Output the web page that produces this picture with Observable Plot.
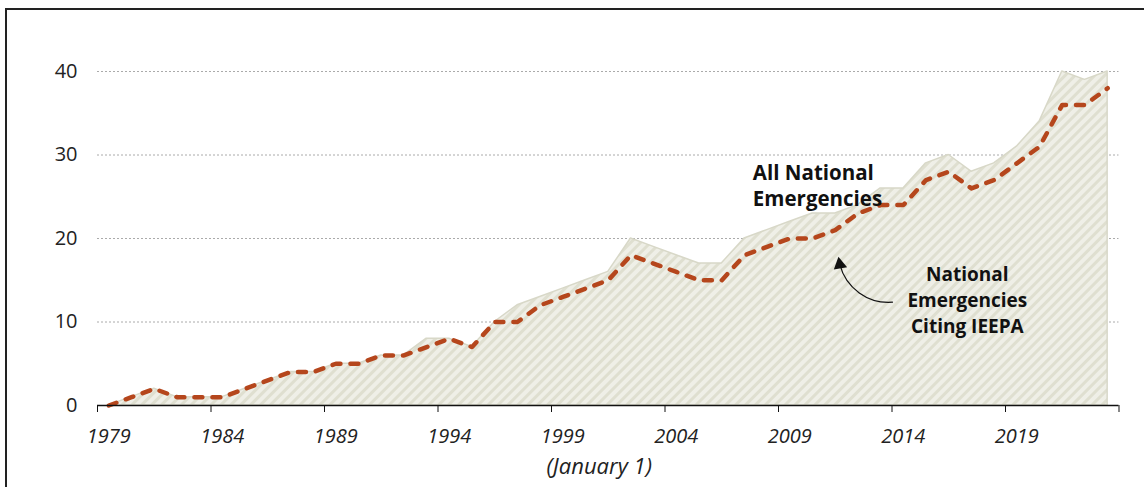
<!DOCTYPE html>
<html><head><meta charset="utf-8">
<script src="https://cdn.jsdelivr.net/npm/d3@7"></script>
<script src="https://cdn.jsdelivr.net/npm/@observablehq/plot@0.6"></script>
<style>
html,body{margin:0;padding:0;background:#fff;overflow:hidden;width:1144px;height:487px;}
#frame{position:absolute;left:5px;top:8px;width:1200px;height:600px;border-left:2px solid #222;border-top:2px solid #222;}
#chart{position:absolute;left:0;top:0;}
</style></head><body>
<div id="frame"></div>
<div id="chart"></div>
<script>
const years = [1979,1980,1981,1982,1983,1984,1985,1986,1987,1988,1989,1990,1991,1992,1993,1994,1995,1996,1997,1998,1999,2000,2001,2002,2003,2004,2005,2006,2007,2008,2009,2010,2011,2012,2013,2014,2015,2016,2017,2018,2019,2020,2021,2022,2023];
const allEmergencies = [0,1,2,1,1,1,2,3,4,4,5,5,6,6,8,8,7,10,12,13,14,15,16,20,19,18,17,17,20,21,22,23,23,24,26,26,29,30,28,29,31,34,40,39,40];
const ieepaEmergencies = [0,1,2,1,1,1,2,3,4,4,5,5,6,6,7,8,7,10,10,12,13,14,15,18,17,16,15,15,18,19,20,20,21,23,24,24,27,28,26,27,29,31,36,36,38];
const yTicks = [0,10,20,30,40];
const xLabelYears = [1979,1984,1989,1994,1999,2004,2009,2014,2019];
const xTickMarks = [1978.5,1983.5,1988.5,1993.5,1998.5,2003.5,2008.5,2013.5,2018.5,2023.5];
const xAxisTitle = "(January 1)";
const labelAll = [{text: "All National\nEmergencies", x: 2007.37, y: 26.4}];
const labelIeepa = [{text: "National\nEmergencies\nCiting IEEPA", x: 2016.82, y: 12.8}];
const arrowSpec = [{x1: 2013.52, y1: 12.37, x2: 2011.2, y2: 16.89}];

const data = years.map((year, i) => ({year, all: allEmergencies[i], ieepa: ieepaEmergencies[i]}));

const chart = Plot.plot({
  width: 1144,
  height: 487,
  marginLeft: 97,
  marginRight: 25.5,
  marginTop: 71,
  marginBottom: 82,
  style: {fontFamily: "'Open Sans', sans-serif", background: "transparent", color: "#222"},
  x: {domain: [1978.5, 2023.5]},
  y: {domain: [0, 40]},
  marks: [
    Plot.gridY({ticks: yTicks.filter(d => d > 0), stroke: "#aaa", strokeOpacity: 1, strokeWidth: 1, strokeDasharray: "2,2"}),
    Plot.areaY(data, {x: "year", y: "all", fill: "url(#hatch)", stroke: "#d8d8c8", strokeWidth: 1.5}),
    Plot.lineY(data, {x: "year", y: "ieepa", stroke: "#b5461c", strokeWidth: 4.5, strokeDasharray: "8,10", strokeLinecap: "round"}),
    Plot.ruleY([0], {stroke: "#111", strokeWidth: 1.5}),
    Plot.axisY({ticks: yTicks, tickSize: 0, tickPadding: 20, fontSize: 20, label: null, fill: "#222"}),
    Plot.axisX({ticks: xTickMarks, tickSize: 7, tickFormat: () => "", label: null, stroke: "#111"}),
    Plot.axisX({ticks: xLabelYears, tickSize: 0, tickPadding: 23, tickFormat: d => String(d), fontSize: 20, fontStyle: "italic", label: null, fill: "#222"}),
    Plot.text([xAxisTitle], {text: d => d, frameAnchor: "bottom", lineAnchor: "middle", dy: 61, dx: -9, fontSize: 22, fontStyle: "italic", fill: "#222"}),
    Plot.text(labelAll, {x: "x", y: "y", text: "text", textAnchor: "start", fontSize: 20.5, fontWeight: "bold", lineHeight: 1.25, fill: "#111"}),
    Plot.text(labelIeepa, {x: "x", y: "y", text: "text", textAnchor: "middle", fontSize: 19, fontWeight: "bold", lineHeight: 1.37, fill: "#111"}),
    Plot.arrow(arrowSpec, {x1: "x1", y1: "y1", x2: "x2", y2: "y2", bend: 40, headLength: 0, stroke: "#111", strokeWidth: 1.2}),
    Plot.dot(arrowSpec, {x: "x2", y: "y2", symbol: "triangle", r: 5, fill: "#111", stroke: "none", rotate: -10})
  ]
});

d3.select(chart).insert("defs", ":first-child").html(
  '<pattern id="hatch" patternUnits="userSpaceOnUse" width="7" height="7" patternTransform="rotate(45)">' +
  '<rect width="7" height="7" fill="#efefe7"/><rect width="3" height="7" fill="#dfdfd0"/></pattern>'
);
document.getElementById("chart").appendChild(chart);
</script>
</body></html>
